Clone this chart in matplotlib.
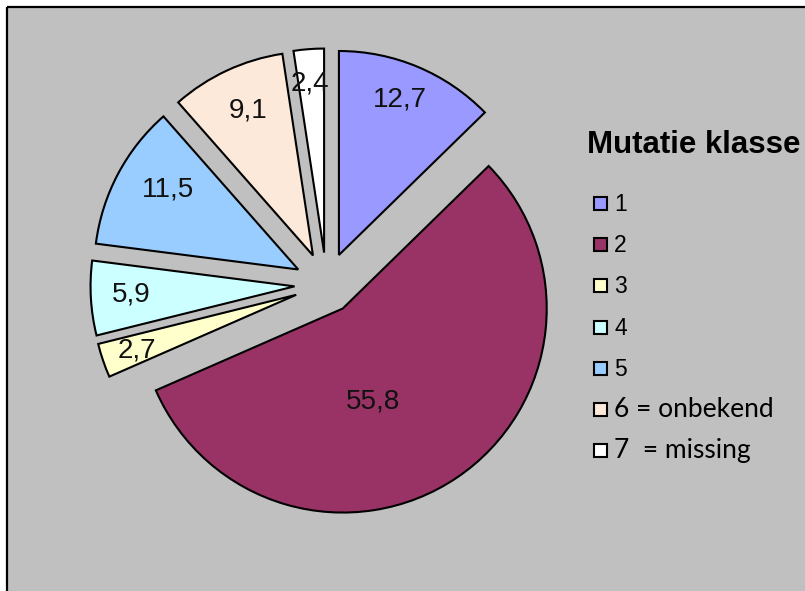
import matplotlib.pyplot as plt
from matplotlib.patches import Rectangle
import numpy as np

# slice values (percent) in drawing order, clockwise from 12 o'clock
classes = ['1', '2', '3', '4', '5', '6 = onbekend', '7  = missing']
values = [12.7, 55.8, 2.7, 5.9, 11.5, 9.1, 2.4]
value_labels = ['12,7', '55,8', '2,7', '5,9', '11,5', '9,1', '2,4']
colors = ['#9999FF', '#993366', '#FFFFCC', '#CCFFFF', '#99CCFF', '#FDE9D9', '#FFFFFF']

W, H = 805, 591


def Y(y):
    # image pixel row -> data y (y up)
    return H - y


fig = plt.figure(figsize=(W / 100, H / 100), dpi=100)
fig.patch.set_facecolor('white')
ax = fig.add_axes([0, 0, 1, 1])

# grey chart area with black left/top edge
ax.add_patch(Rectangle((7, 0), W - 7, Y(7), facecolor='#C0C0C0', edgecolor='none', zorder=0))
ax.plot([7, 7], [0, Y(7)], color='black', lw=1.6, zorder=1, solid_capstyle='butt')
ax.plot([7, W], [Y(7), Y(7)], color='black', lw=1.6, zorder=1, solid_capstyle='butt')

radius = 204
# pie's explode offset is in data units here (pixels)
explode = [32, 29, 32, 32, 32, 32, 32]
wedges, _ = ax.pie(values, colors=colors, explode=explode, startangle=90, counterclock=False,
                   center=(326.5, Y(284.5)), radius=radius, frame=True,
                   wedgeprops=dict(edgecolor='black', linewidth=1.5))

# label placement inside each slice: fraction along the slice (clockwise) and fraction of radius
ang_frac = [0.47, 0.58, 0.45, 0.52, 0.59, 0.53, 0.44]
rad_frac = [0.82, 0.48, 0.83, 0.80, 0.75, 0.78, 0.83]
for w, lab, af, rf in zip(wedges, value_labels, ang_frac, rad_frac):
    t = np.deg2rad(w.theta2 - af * (w.theta2 - w.theta1))
    cx, cy = w.center
    ax.text(cx + rf * w.r * np.cos(t), cy + rf * w.r * np.sin(t), lab,
            ha='center', va='center', fontsize=20, family='Liberation Sans', color='#111111')

# legend drawn by hand
ax.text(587, Y(153), 'Mutatie klasse', fontsize=22.5, fontweight='bold',
        family='Liberation Sans', ha='left', va='baseline', color='black')
for i, (name, c) in enumerate(zip(classes, colors)):
    base = 211 + i * 41.2
    ax.add_patch(Rectangle((594, Y(base - 1)), 13, 13, facecolor=c, edgecolor='black', lw=1.5, zorder=3))
    if '=' in name:
        ax.text(614, Y(base), name, fontsize=19, family='Lato', ha='left', va='baseline')
    else:
        ax.text(614, Y(base), name, fontsize=16.5, family='Liberation Sans', ha='left', va='baseline')

ax.set_xlim(0, W)
ax.set_ylim(0, H)
ax.set_aspect('auto')
ax.axis('off')

fig.savefig('out.png', dpi=100, facecolor='white')
